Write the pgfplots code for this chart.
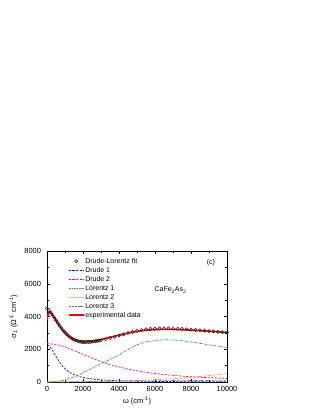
\documentclass[border=0pt]{standalone}
\usepackage{fontspec}
\setmainfont{Liberation Sans}
\usepackage{pgfplots}
\pgfplotsset{compat=1.18}
\definecolor{lgreen}{RGB}{60,150,60}
\definecolor{lorange}{RGB}{255,150,40}
\definecolor{lgray}{RGB}{110,110,110}
\definecolor{fitc}{RGB}{30,30,30}
\begin{document}
\begin{tikzpicture}
\path[use as bounding box] (0bp,0bp) rectangle (319bp,412bp);
\begin{axis}[
  at={(47bp,30bp)}, anchor=south west,
  scale only axis, width=180bp, height=131bp,
  xmin=0, xmax=10000, ymin=0, ymax=8000,
  xtick={0,2000,4000,6000,8000,10000},
  ytick={0,2000,4000,6000,8000},
  scaled ticks=false,
  minor tick num=1,
  tick align=inside,
  major tick length=3bp, minor tick length=1.6bp,
  tick style={line width=0.5bp, black},
  axis line style={line width=0.9bp},
  /pgf/number format/1000 sep={},
  /pgf/number format/assume math mode=true,
  ticklabel style={font=\fontsize{7.5}{9}\selectfont},
  yticklabel style={xshift=-2.5bp},
  xticklabel style={yshift=-0.5bp},
  xlabel={ω (cm\textsuperscript{-1})},
  ylabel={σ\textsubscript{1} (Ω\textsuperscript{-1} cm\textsuperscript{-1})},
  label style={font=\fontsize{7.5}{9}\selectfont},
  xlabel style={at={(axis description cs:0.5,-0.145)}, anchor=center},
  ylabel style={at={(axis description cs:-0.186,0.5)}, anchor=center},
  legend image code/.code={\draw[mark repeat=2,mark phase=2,#1] plot coordinates {(0bp,0bp) (7.5bp,0bp) (15bp,0bp)};},
  legend style={draw=none, fill=none, at={(axis description cs:0.115,0.955)}, anchor=north west,
    font=\fontsize{7}{8}\selectfont, inner sep=0pt, row sep=0.8bp,
    nodes={inner sep=0.8bp, text height=5.2bp, text depth=1.4bp}},
  legend cell align=left,
]
% Drude-Lorentz fit
\addplot[only marks, mark=o, mark size=1.6bp, fitc, mark options={line width=0.5bp}] coordinates {
(0,4500)(100,4400)(200,4250)(300,4100)(400,3930)(500,3760)(600,3600)(700,3440)(800,3290)(900,3150)
(1000,3030)(1100,2920)(1200,2820)(1300,2730)(1400,2650)(1500,2590)(1600,2540)(1700,2500)(1800,2470)(1900,2450)
(2000,2440)(2100,2435)(2200,2435)(2300,2440)(2400,2450)(2500,2460)(2600,2475)(2700,2490)(2800,2510)(2900,2530)
(3000,2550)(3250,2610)(3500,2680)(3750,2750)(4000,2830)(4250,2910)(4500,2990)(4750,3060)(5000,3120)(5250,3170)
(5500,3210)(5750,3240)(6000,3260)(6250,3275)(6500,3280)(6750,3280)(7000,3270)(7250,3255)(7500,3240)(7750,3220)
(8000,3200)(8250,3180)(8500,3160)(8750,3135)(9000,3110)(9250,3090)(9500,3065)(9750,3040)(10000,3020)};
\addlegendentry{Drude-Lorentz fit}
% Drude 1
\addplot[blue, line width=0.7bp, dash pattern=on 2.2bp off 1.4bp] coordinates {
(0,2250)(100,2211)(250,2025)(500,1558)(750,1125)(1000,810)(1250,596)(1500,450)(1750,349)(2000,277)
(2250,225)(2500,186)(2750,156)(3000,132)(3500,99)(4000,76)(4500,61)(5000,50)(5500,41)(6000,35)
(6500,30)(7000,26)(7500,22)(8000,20)(8500,17)(9000,16)(9500,14)(10000,13)};
\addlegendentry{Drude 1}
% Drude 2
\addplot[magenta, line width=0.7bp, dash pattern=on 2.2bp off 1.4bp] coordinates {
(0,2350)(500,2294)(1000,2141)(1500,1927)(2000,1690)(2500,1459)(3000,1251)(3500,1070)(4000,917)(4500,789)
(5000,683)(5500,594)(6000,520)(6500,458)(7000,406)(7500,362)(8000,324)(8500,292)(9000,264)(9500,239)(10000,218)};
\addlegendentry{Drude 2}
% Lorentz 1
\addplot[lgreen, line width=0.7bp, dash pattern=on 2.5bp off 0.9bp on 0.6bp off 0.9bp] coordinates {
(0,0)(250,10)(500,30)(750,70)(1000,130)(1250,210)(1500,310)(1750,430)(2000,560)(2250,700)(2500,840)
(3000,1120)(3500,1380)(4000,1650)(4500,1980)(5000,2280)(5500,2450)(6000,2540)(6500,2580)(7000,2570)
(7500,2520)(8000,2440)(8500,2360)(9000,2270)(9500,2190)(10000,2110)};
\addlegendentry{Lorentz 1}
% Lorentz 2
\addplot[lorange, line width=0.7bp, dash pattern=on 2.5bp off 0.9bp on 0.6bp off 0.9bp] coordinates {
(0,0)(1000,5)(2000,10)(3000,25)(4000,50)(5000,90)(6000,140)(7000,200)(8000,280)(9000,390)(10000,520)};
\addlegendentry{Lorentz 2}
% Lorentz 3
\addplot[lgray, line width=0.6bp, dash pattern=on 2.5bp off 0.8bp on 0.5bp off 0.8bp on 0.5bp off 0.8bp] coordinates {
(0,0)(1000,10)(2000,25)(3000,40)(4000,55)(5000,65)(6000,75)(7000,85)(8000,90)(9000,95)(10000,100)};
\addlegendentry{Lorentz 3}
% experimental data
\addplot[red, line width=1.6bp, smooth] coordinates {
(0,3750)(50,4050)(100,4250)(150,4300)(200,4250)(300,4120)(400,3950)(500,3780)(750,3350)(1000,3000)
(1250,2750)(1500,2600)(1750,2520)(2000,2490)(2250,2490)(2500,2510)(3000,2600)(3500,2730)(4000,2860)
(4500,2990)(5000,3090)(5500,3160)(6000,3200)(6500,3215)(7000,3210)(7500,3190)(8000,3165)(8500,3135)
(9000,3100)(9500,3065)(10000,3030)};
\addlegendentry{experimental data}
\node[font=\fontsize{7}{8}\selectfont] at (rel axis cs:0.911,0.908) {(c)};
\node[font=\fontsize{7}{8}\selectfont] at (rel axis cs:0.686,0.702) {CaFe\textsubscript{2}As\textsubscript{2}};
\end{axis}
\end{tikzpicture}
\end{document}
